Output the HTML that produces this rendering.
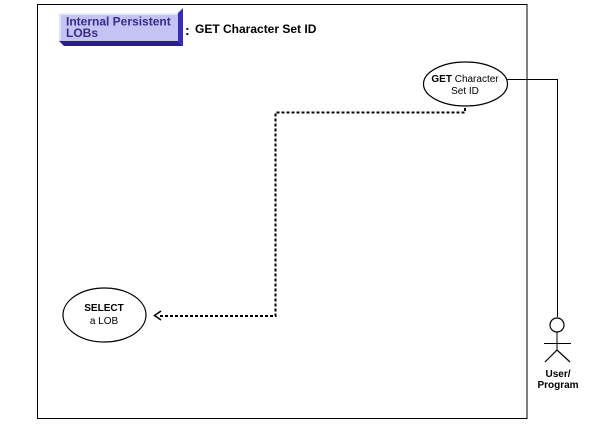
<!DOCTYPE html>
<html><head><meta charset="utf-8"><style>
html,body{margin:0;padding:0;background:#fff;}
svg{display:block;}
text{font-family:"Liberation Sans",sans-serif;}
</style></head><body>
<svg width="600" height="432" viewBox="0 0 600 432" xmlns="http://www.w3.org/2000/svg">
<rect x="0" y="0" width="600" height="432" fill="#fff"/>
<!-- frame -->
<rect x="37.5" y="4.5" width="489.5" height="414" fill="none" stroke="#000" stroke-width="1"/>
<!-- label box -->
<polygon points="178,13 183,8 183,46 178,41" fill="#3a2ab8"/>
<polygon points="59,41 178,41 183,46 64,46" fill="#2a1a9a"/>
<rect x="59" y="13" width="119" height="28" fill="#c4c4f4"/>
<polygon points="59,13 178,13 176,15 61,15" fill="#e8e8ff"/>
<polygon points="59,13 61,15 61,39 59,41" fill="#e0e0ff"/>
<text x="66" y="25.5" font-size="12" font-weight="bold" fill="#3a2a8a">Internal Persistent</text>
<text x="66" y="37" font-size="12" font-weight="bold" fill="#3a2a8a">LOBs</text>
<text x="185" y="35" font-size="14" font-weight="bold" fill="#000">:</text>
<text x="195" y="33" font-size="12" font-weight="bold" fill="#000">GET Character Set ID</text>
<!-- GET ellipse -->
<ellipse cx="465.5" cy="84" rx="42" ry="22" fill="#fff" stroke="#000" stroke-width="1.2"/>
<text x="465" y="82" font-size="10" text-anchor="middle" fill="#000"><tspan font-weight="bold">GET</tspan> Character</text>
<text x="465" y="94" font-size="10" text-anchor="middle" fill="#000">Set ID</text>
<!-- connection to actor -->
<polyline points="507.5,79.5 557.5,79.5 557.5,317" fill="none" stroke="#000" stroke-width="1"/>
<!-- dashed path -->
<polyline points="465,108 465,112.5 275.5,112.5 275.5,316 158,316" fill="none" stroke="#000" stroke-width="2" stroke-dasharray="3,2"/>
<polyline points="161,311 154.5,315.5 161,320" fill="none" stroke="#000" stroke-width="1.5"/>
<!-- SELECT ellipse -->
<ellipse cx="104.5" cy="315" rx="41.5" ry="27" fill="#fff" stroke="#000" stroke-width="1.2"/>
<text x="104" y="311" font-size="10" font-weight="bold" text-anchor="middle" fill="#000">SELECT</text>
<text x="104" y="324" font-size="10" text-anchor="middle" fill="#000">a LOB</text>
<!-- actor -->
<circle cx="557" cy="325" r="7" fill="#fff" stroke="#000" stroke-width="1.2"/>
<line x1="557" y1="332" x2="557" y2="350" stroke="#000" stroke-width="1"/>
<line x1="544" y1="343.5" x2="571" y2="343.5" stroke="#000" stroke-width="1"/>
<line x1="557" y1="350" x2="545" y2="362" stroke="#000" stroke-width="1.2"/>
<line x1="557" y1="350" x2="570" y2="362" stroke="#000" stroke-width="1.2"/>
<text x="558" y="377" font-size="10" font-weight="bold" text-anchor="middle" fill="#000">User/</text>
<text x="558" y="388" font-size="10" font-weight="bold" text-anchor="middle" fill="#000">Program</text>
</svg>
</body></html>
